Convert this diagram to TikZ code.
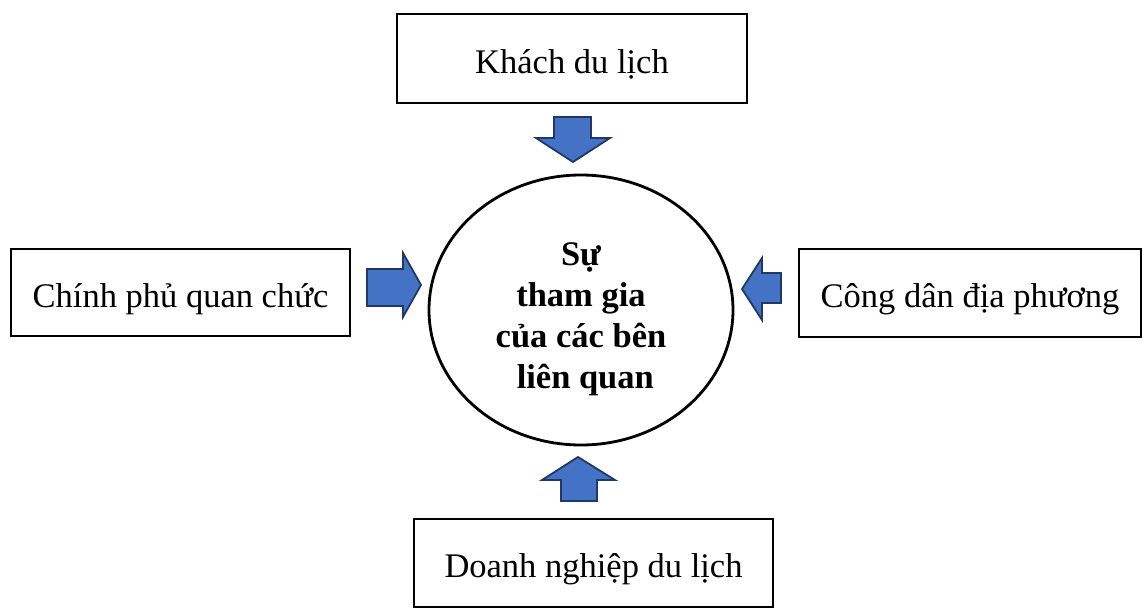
\documentclass[tikz,border=0pt]{standalone}
\usepackage{fontspec}
\setmainfont{Liberation Serif}
\usetikzlibrary{shapes.geometric}
\definecolor{arrowfill}{HTML}{4472C4}
\definecolor{arrowline}{HTML}{1F3864}
\begin{document}
\begin{tikzpicture}[x=1pt,y=-1pt,
  party/.style={draw=black,line width=2.5pt,fill=white,inner sep=0pt,
    text height=29pt,text depth=0pt,
    font=\fontsize{34.5}{40}\selectfont},
  hub/.style={ellipse,draw=black,line width=2.8pt,inner sep=0pt,
    minimum width=304pt,minimum height=270pt},
  hubtext/.style={align=center,inner sep=0pt,
    font=\fontsize{34.5}{41}\selectfont\bfseries},
  blockarrow/.style={fill=arrowfill,draw=arrowline,line width=1.8pt,line join=miter}]
\useasboundingbox (0,0) rectangle (1144,608);

% stakeholder boxes
\node[party,minimum width=350pt,minimum height=89pt] (tourist) at (572,58.5) {Khách du lịch};
\node[party,minimum width=339pt,minimum height=87pt] (gov) at (180.5,292.5) {Chính phủ quan chức};
\node[party,minimum width=342pt,minimum height=88pt] (local) at (970,293) {Công dân địa phương};
\node[party,minimum width=359pt,minimum height=88pt] (biz) at (593.5,563) {Doanh nghiệp du lịch};

% central participation node and its caption
\node[hub] (hub) at (581,310) {};
\node[hubtext] (hubtext) at ([yshift=-9pt]hub.center)
  {Sự\\tham gia\\của các bên\\\hspace*{0.25em}liên quan};

% block arrows pointing towards the centre
\draw[blockarrow] (554,117) -- (591,117) -- (591,138) -- (610,138) -- (573,162)
  -- (536,138) -- (554,138) -- cycle;
\draw[blockarrow] (367,269) -- (403,269) -- (403,253) -- (421,285) -- (403,317)
  -- (403,306) -- (367,306) -- cycle;
\draw[blockarrow] (781,273) -- (762,273) -- (762,258) -- (742,289) -- (762,320)
  -- (762,303) -- (781,303) -- cycle;
\draw[blockarrow] (561,501) -- (561,480) -- (542,480) -- (578,457) -- (615,480)
  -- (597,480) -- (597,501) -- cycle;
\end{tikzpicture}
\end{document}
